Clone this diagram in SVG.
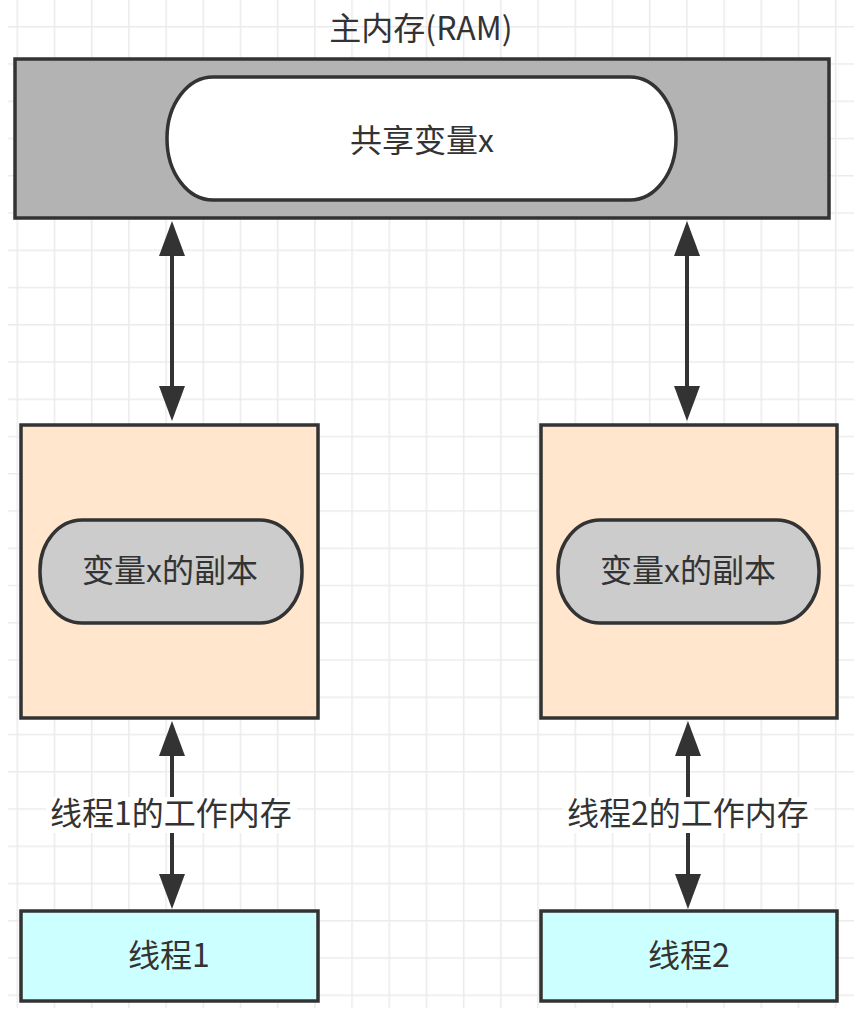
<svg xmlns="http://www.w3.org/2000/svg" width="868" height="1020" viewBox="0 0 868 1020">
  <style>
    .box { stroke: #333333; stroke-width: 3.5; }
    .lbl { font-family: "Microsoft YaHei", "Noto Sans CJK SC", "Noto Sans", sans-serif; font-size: 32px; fill: #333333; text-anchor: middle; dominant-baseline: central; }
    .edge { stroke: #333333; stroke-width: 4; fill: none; marker-start: url(#arr); marker-end: url(#arr); }
  </style>
  <defs>
    <pattern id="grid" patternUnits="userSpaceOnUse" x="16.5" y="26" width="37.2" height="37.25">
      <path d="M0.75,0 V37.25 M0,0.75 H37.2" stroke="#ebebeb" stroke-width="1.5" fill="none"/>
    </pattern>
    <marker id="arr" markerUnits="userSpaceOnUse" viewBox="0 0 35 26" markerWidth="35" markerHeight="26" refX="30" refY="13" orient="auto-start-reverse">
      <path d="M0,0 L35,13 L0,26 Z" fill="#333333"/>
    </marker>
  </defs>
  <rect width="868" height="1020" fill="#ffffff"/>
  <rect x="8" y="0" width="846" height="1008" fill="url(#grid)"/>

  <g id="edges">
    <line class="edge" x1="172" y1="226" x2="172" y2="416"/>
    <line class="edge" x1="687" y1="226" x2="687" y2="416"/>
    <line class="edge" x1="172" y1="726" x2="172" y2="904"/>
    <line class="edge" x1="688" y1="726" x2="688" y2="904"/>
    <rect x="46" y="797" width="251" height="36" fill="#ffffff"/>
    <text class="lbl" x="171" y="811">线程1的工作内存</text>
    <rect x="563" y="797" width="251" height="36" fill="#ffffff"/>
    <text class="lbl" x="688" y="811">线程2的工作内存</text>
  </g>

  <g id="ram">
    <text class="lbl" x="421" y="26">主内存(RAM)</text>
    <rect class="box" x="15" y="59" width="814" height="159" fill="#b3b3b3"/>
  </g>
  <g id="shared-x">
    <rect class="box" x="167" y="77" width="509" height="123" rx="46" ry="61" fill="#ffffff"/>
    <text class="lbl" x="422" y="138">共享变量x</text>
  </g>

  <g id="work-mem-1">
    <rect class="box" x="21" y="425" width="297" height="293" fill="#ffe6cc"/>
  </g>
  <g id="copy-x-1">
    <rect class="box" x="40" y="520" width="262" height="103" rx="42" ry="50" fill="#cccccc"/>
    <text class="lbl" x="170" y="568">变量x的副本</text>
  </g>

  <g id="work-mem-2">
    <rect class="box" x="541" y="425" width="296" height="293" fill="#ffe6cc"/>
  </g>
  <g id="copy-x-2">
    <rect class="box" x="558" y="520" width="261" height="103" rx="42" ry="50" fill="#cccccc"/>
    <text class="lbl" x="688" y="568">变量x的副本</text>
  </g>

  <g id="thread-1">
    <rect class="box" x="21" y="911" width="297" height="90" fill="#ccffff"/>
    <text class="lbl" x="169" y="953">线程1</text>
  </g>
  <g id="thread-2">
    <rect class="box" x="541" y="911" width="296" height="90" fill="#ccffff"/>
    <text class="lbl" x="689" y="953">线程2</text>
  </g>
</svg>
